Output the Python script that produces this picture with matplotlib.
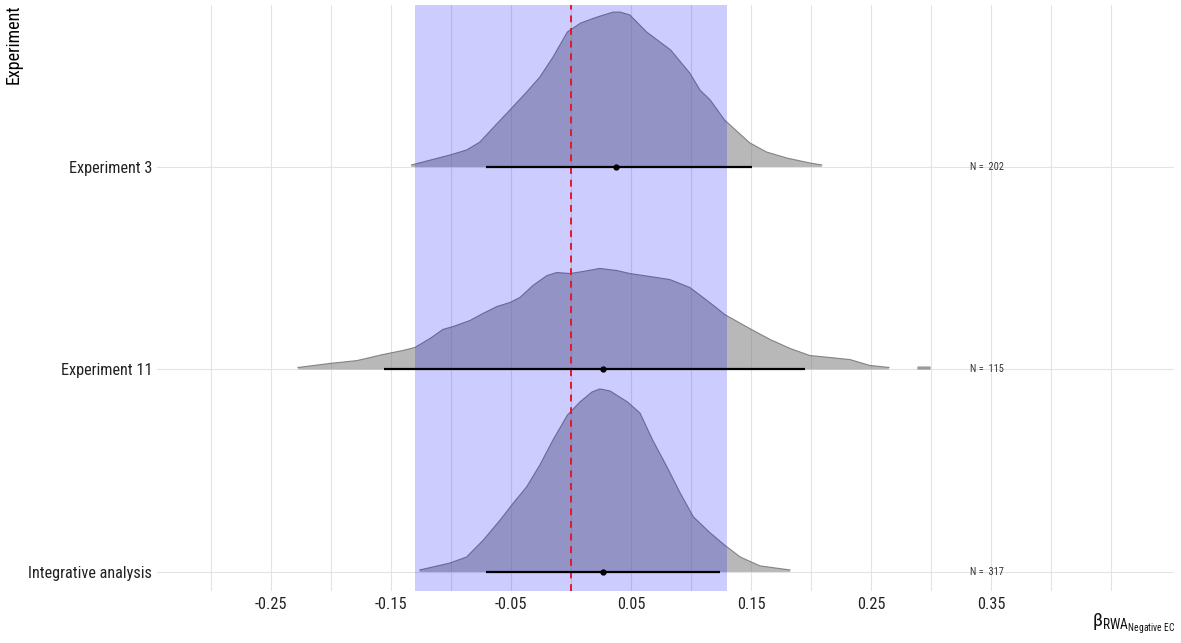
import numpy as np
import matplotlib as mpl
mpl.use('Agg')
from matplotlib import pyplot as plt

# categories, bottom to top
experiments = ['Integrative analysis', 'Experiment 11', 'Experiment 3']
n_obs = [317, 115, 202]

# density outlines (x = beta, h = height in row units)
integ_x = [-0.126, -0.101, -0.087, -0.073, -0.059, -0.048, -0.037, -0.026, -0.015,
           -0.003, 0.0075, 0.0175, 0.024, 0.0325, 0.047, 0.0575, 0.068, 0.080,
           0.091, 0.102, 0.116, 0.128, 0.141, 0.1575, 0.1825]
integ_h = [0.010, 0.044, 0.074, 0.158, 0.257, 0.341, 0.420, 0.528, 0.652,
           0.775, 0.840, 0.889, 0.904, 0.894, 0.840, 0.785, 0.652, 0.519,
           0.390, 0.272, 0.193, 0.133, 0.074, 0.030, 0.010]

exp11_x = [-0.2275, -0.2008, -0.1783, -0.1567, -0.140, -0.130, -0.1175, -0.1067,
           -0.0983, -0.0842, -0.0733, -0.0617, -0.0508, -0.0425, -0.0317, -0.020,
           -0.0117, -0.001, 0.010, 0.024, 0.038, 0.049, 0.066, 0.0825, 0.099,
           0.110, 0.122, 0.128, 0.149, 0.166, 0.1825, 0.199, 0.216, 0.2325,
           0.249, 0.265]
exp11_h = [0.010, 0.030, 0.044, 0.074, 0.094, 0.109, 0.153, 0.198,
           0.212, 0.242, 0.277, 0.311, 0.331, 0.356, 0.415, 0.464,
           0.479, 0.474, 0.484, 0.499, 0.489, 0.474, 0.459, 0.444, 0.405,
           0.356, 0.301, 0.272, 0.202, 0.148, 0.104, 0.069, 0.059, 0.049,
           0.020, 0.010]
exp11_blob_x = [0.289, 0.299]
exp11_blob_h = [0.010, 0.010]

exp3_x = [-0.133, -0.101, -0.087, -0.076, -0.065, -0.051, -0.037, -0.026, -0.015,
          -0.003, 0.008, 0.022, 0.035, 0.041, 0.049, 0.063, 0.083, 0.099, 0.1075,
          0.116, 0.128, 0.149, 0.163, 0.180, 0.199, 0.209]
exp3_h = [0.010, 0.059, 0.084, 0.123, 0.193, 0.281, 0.370, 0.444, 0.543,
          0.667, 0.711, 0.741, 0.765, 0.765, 0.751, 0.667, 0.578, 0.464, 0.380,
          0.331, 0.232, 0.119, 0.074, 0.044, 0.020, 0.010]

# point estimate and interval per experiment (same order as experiments)
est_lower = [-0.071, -0.156, -0.071]
est_point = [0.027, 0.027, 0.0375]
est_upper = [0.124, 0.195, 0.151]

rope = (-0.13, 0.13)
major_ticks = [-0.25, -0.15, -0.05, 0.05, 0.15, 0.25, 0.35]
minor_ticks = [-0.30, -0.20, -0.10, 0.00, 0.10, 0.20, 0.30, 0.40, 0.45]

plt.rcParams['font.family'] = ['Roboto Condensed', 'Roboto', 'DejaVu Sans']
plt.rcParams['mathtext.fontset'] = 'custom'
plt.rcParams['mathtext.rm'] = 'Roboto Condensed'
plt.rcParams['mathtext.it'] = 'Roboto Condensed:italic'

fig = plt.figure(figsize=(11.81, 6.43), dpi=100)
ax = fig.add_axes([157 / 1181, 1 - 591 / 643, (1174 - 157) / 1181, (591 - 5) / 643])

dens = [(integ_x, integ_h), (exp11_x, exp11_h), (exp3_x, exp3_h)]
for i, (xs, hs) in enumerate(dens):
    base = i + 1
    xs = np.array(xs)
    hs = np.array(hs)
    ax.fill_between(xs, base, base + hs, facecolor='#737373', alpha=0.5,
                    edgecolor='none', zorder=2)
    ax.plot(xs, base + hs, color='#6e6e6e', lw=0.8, alpha=0.8, zorder=2.1)

ax.fill_between(exp11_blob_x, 2, 2 + np.array(exp11_blob_h), facecolor='#737373',
                alpha=0.5, edgecolor='#737373', lw=1.2, zorder=2)

ax.axvspan(rope[0], rope[1], color='#0000ff', alpha=0.2, lw=0, zorder=3)
ax.axvline(0, color='#e3172d', lw=1.4, ls=(0, (3.5, 3)), zorder=4)

for i in range(len(experiments)):
    ax.plot([est_lower[i], est_upper[i]], [i + 1, i + 1], color='black', lw=1.6,
            solid_capstyle='butt', zorder=5)
    ax.plot(est_point[i], i + 1, 'o', color='black', ms=3.5, zorder=6)
    ax.text(0.347, i + 1, 'N =  %d' % n_obs[i], ha='center', va='center',
            fontsize=7.5, color='#333333', zorder=6)

ax.set_xlim(-0.345, 0.5025)
ax.set_ylim(0.906, 3.80)
ax.set_yticks([1, 2, 3])
ax.set_yticklabels(experiments)
ax.set_xticks(major_ticks)
ax.set_xticklabels(['%.2f' % t for t in major_ticks])
ax.set_xticks(minor_ticks, minor=True)
ax.tick_params(which='both', length=0, labelsize=11.7, labelcolor='#222222')
ax.tick_params(axis='x', pad=4)
ax.tick_params(axis='y', pad=3.5)
ax.grid(which='both', axis='x', color='#e3e3e3', lw=0.8, zorder=0)
ax.grid(which='major', axis='y', color='#e3e3e3', lw=0.8, zorder=0)
ax.set_axisbelow(True)
for s in ax.spines.values():
    s.set_visible(False)

fig.text(1175 / 1181, 1 - 624 / 643,
         r'$\mathrm{\beta}_{\mathrm{RWA}_{\mathrm{Negative\ EC}}}$',
         ha='right', va='center', fontsize=14, color='#111111')
fig.text(14 / 1181, 1 - 5 / 643, 'Experiment', rotation=90, ha='center', va='top',
         fontsize=13, color='black')

plt.savefig('out.png', dpi=100)
